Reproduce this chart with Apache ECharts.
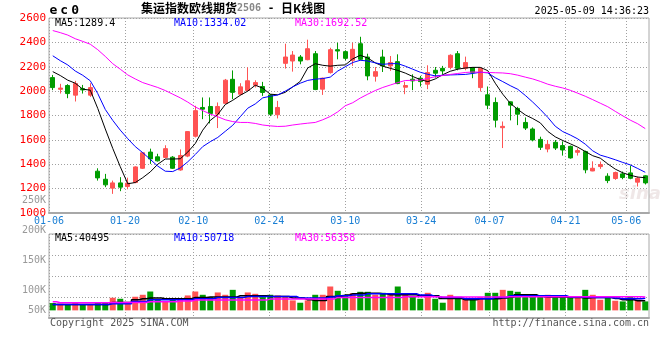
<!DOCTYPE html>
<html><head><meta charset="utf-8">
<script src="https://cdn.jsdelivr.net/npm/echarts@6/dist/echarts.min.js"></script>
<style>html,body{margin:0;padding:0;background:#fff}#c{width:660px;height:360px}</style>
</head><body><div id="c"></div><script>
const dates = ['01-06','01-07','01-08','01-09','01-10','01-13','01-14','01-15','01-16','01-17','01-20','01-21','01-22','01-23','01-24','01-27','02-05','02-06','02-07','02-10','02-11','02-12','02-13','02-14','02-17','02-18','02-19','02-20','02-21','02-24','02-25','02-26','02-27','02-28','03-03','03-04','03-05','03-06','03-07','03-10','03-11','03-12','03-13','03-14','03-17','03-18','03-19','03-20','03-21','03-24','03-25','03-26','03-27','03-28','03-31','04-01','04-02','04-03','04-07','04-08','04-09','04-10','04-11','04-14','04-15','04-16','04-17','04-18','04-21','04-22','04-23','04-24','04-25','04-28','04-29','04-30','05-06','05-07','05-08','05-09'];
const dateLabels = ['01-06','01-20','02-10','02-24','03-10','03-24','04-07','04-21','05-06'];
const opens = [2111,2015,2046,1967,2021,1967,1343,1277,1204,1247,
 1218,1250,1367,1500,1461,1456,1458,1353,1467,1630,
 1866,1874,1811,1900,2097,1975,2005,2048,2038,1969,
 1806,2228,2247,2280,2258,2307,2016,2152,2340,2324,
 2253,2389,2280,2122,2280,2207,2242,2032,2098,2106,
 2057,2171,2187,2195,2307,2187,2193,2029,1970,1907,
 1700,1912,1858,1743,1689,1604,1525,1580,1553,1547,
 1498,1504,1345,1381,1302,1283,1321,1329,1253,1305];
const highs = [2133,2060,2057,2084,2051,2065,1367,1321,1266,1294,
 1290,1383,1500,1528,1486,1556,1467,1522,1672,1880,
 1948,1948,1907,2100,2170,2065,2195,2089,2076,1975,
 1920,2389,2329,2296,2422,2329,2111,2356,2397,2335,
 2397,2446,2307,2198,2340,2288,2302,2076,2138,2125,
 2212,2198,2207,2302,2329,2283,2198,2193,2038,1948,
 1751,1915,1871,1784,1702,1626,1599,1599,1588,1553,
 1531,1512,1424,1422,1326,1340,1340,1389,1299,1310];
const lows = [2008,1980,1942,1915,1980,1953,1266,1212,1157,1179,
 1195,1244,1361,1403,1422,1450,1361,1347,1458,1620,
 1770,1735,1697,1895,1934,1965,2000,2030,1961,1795,
 1776,2185,2160,2220,2253,2008,1969,2144,2261,2253,
 2207,2253,2089,2078,2157,2166,2057,1975,2008,2038,
 2016,2111,2138,2179,2171,2171,2106,1997,1852,1702,
 1533,1760,1721,1681,1588,1517,1498,1517,1471,1446,
 1471,1326,1343,1362,1245,1272,1277,1277,1217,1234];
const closes = [2029,2025,1980,2062,2010,2029,1288,1231,1247,1212,
 1245,1378,1494,1444,1428,1528,1367,1472,1668,1840,
 1852,1817,1874,2090,1990,2035,2085,2070,1989,1811,
 1866,2280,2296,2247,2348,2013,2106,2340,2329,2269,
 2343,2261,2125,2160,2207,2234,2062,2046,2084,2078,
 2152,2147,2166,2294,2187,2234,2152,2187,1885,1762,
 1711,1885,1811,1697,1599,1539,1563,1533,1517,1452,
 1512,1354,1367,1397,1266,1332,1291,1285,1285,1247];
const ma5 = [2160,2128,2090,2065,2016,2008,1858,1690,1530,1380,
 1240,1250,1290,1337,1400,1443,1443,1445,1500,1570,
 1680,1760,1808,1890,1925,1966,2000,2048,2025,1975,
 1970,1990,2035,2080,2190,2225,2212,2205,2212,2215,
 2265,2294,2272,2232,2205,2187,2170,2148,2120,2095,
 2078,2100,2135,2163,2180,2190,2195,2195,2168,2065,
 1975,1900,1850,1805,1775,1740,1670,1625,1595,1568,
 1540,1505,1470,1450,1403,1360,1330,1310,1295,1289.4];
const ma10 = [2290,2250,2215,2165,2130,2085,1980,1850,1760,1680,
 1610,1545,1495,1440,1385,1343,1340,1370,1420,1480,
 1545,1585,1620,1670,1720,1790,1860,1895,1945,1958,
 1968,2000,2035,2065,2088,2098,2103,2115,2165,2200,
 2235,2253,2247,2232,2220,2225,2226,2205,2180,2155,
 2138,2125,2130,2133,2135,2137,2145,2155,2150,2110,
 2078,2045,2015,1965,1910,1850,1785,1712,1668,1640,
 1608,1565,1510,1475,1457,1437,1415,1395,1365,1334.02];
const ma30 = [2497,2480,2460,2430,2408,2385,2340,2285,2225,2180,
 2133,2100,2070,2050,2030,2005,1975,1945,1910,1870,
 1840,1812,1790,1765,1750,1743,1743,1735,1722,1715,
 1710,1712,1722,1730,1737,1743,1765,1792,1830,1880,
 1905,1943,1975,2005,2030,2050,2070,2087,2089,2090,
 2105,2118,2128,2137,2145,2153,2157,2155,2153,2151,
 2149,2143,2131,2115,2100,2080,2057,2040,2026,2007,
 1983,1958,1930,1901,1872,1834,1797,1762,1732,1692.52];
const volumes = [30600,27800,23600,30600,23600,23600,32000,32000,52800,48600,
 30600,57000,65300,79000,43000,36000,48600,48600,62500,79000,
 65300,55600,75000,65300,86000,55600,75000,69400,55600,65300,
 62500,55600,41700,32000,41700,65300,65300,100000,82000,65300,
 72000,77800,77800,65300,73600,65300,100000,65300,58300,48600,
 73600,48600,32000,65300,48600,44400,48600,55600,73600,73600,
 86000,82000,77800,61000,61000,61000,65300,55600,58300,58300,
 58300,86000,65300,44400,55600,40300,37500,58300,44400,37500];
const volMa5 = [25000,25000,25000,25000,25000,25000,25000,25000,33300,33300,
 33300,44400,48600,51400,51400,48600,48600,48600,48600,54200,
 54200,55600,55600,55600,55600,61100,61100,61100,61100,58300,
 58300,58300,51400,51400,44400,41700,41700,58300,58300,63900,
 69400,72200,72200,72200,69400,65300,65300,65300,65300,61100,
 61100,61100,50000,50000,50000,44400,44400,48600,48600,48600,
 51400,55600,65300,65300,65300,58300,55600,55600,55600,54200,
 54200,51400,54200,54200,54200,50000,44400,44400,40300,40495];
const volMa10 = [25000,25000,25000,25000,25000,25000,25000,25000,27800,27800,
 27800,37500,37500,44400,44400,44400,44400,44400,44400,48600,
 48600,48600,54200,54200,54200,54200,58300,58300,58300,58300,
 58300,58300,58300,51400,51400,51400,51400,55600,61100,61100,
 63900,63900,69400,69400,69400,69400,69400,69400,69400,63900,
 63900,58300,54200,54200,54200,48600,48600,48600,48600,54200,
 54200,61100,61100,61100,61100,61100,61100,61100,61100,55600,
 55600,55600,54200,54200,54200,51400,48600,48600,48600,50718];
const volMa30 = [36100,32000,32000,32000,32000,32000,32000,32000,33300,33300,
 33300,33300,33300,36100,36100,36100,36100,38900,38900,43000,
 43000,43000,43000,43000,43000,43000,43000,43000,43000,47200,
 47200,47200,47200,47200,47200,47200,47200,47200,54200,54200,
 54200,54200,54200,54200,54200,54200,54200,56900,56900,56900,
 56900,56900,55600,55600,55600,55600,55600,55600,55600,55600,
 55600,57500,57500,57500,57500,57500,57500,57500,57500,57500,
 57500,57500,57500,57500,57500,57500,57500,57500,57500,56358];
const volTickLabels = ['50K','100K','150K','200K','250K'];

const RED = '#ff5353', GREEN = '#009c00';
const FONT = 'DejaVu Sans Mono';
const last = a => a[a.length - 1];
const isLabel = (i, v) => dateLabels.indexOf(v) >= 0;
const dotted = {show: true, interval: isLabel, lineStyle: {color: '#a0a0a0', type: [1, 2], width: 1}};
const hDotted = {show: true, lineStyle: {color: '#a0a0a0', type: [1, 2], width: 1}};
const kData = dates.map((d, i) => [opens[i], closes[i], lows[i], highs[i]]);
const txt = (text, pos, color, size) => Object.assign({text, padding: 0, textStyle: {fontFamily: FONT, fontSize: size || 10, fontWeight: 'normal', color}}, pos);

const chart = echarts.init(document.getElementById('c'), null, {renderer: 'canvas'});
chart.setOption({
  animation: false,
  backgroundColor: '#fff',
  title: [
    {text: '{s|e}{s|c}{s|0}', left: 48, top: 4, padding: 0, textStyle: {rich: {s: {fontFamily: FONT, fontSize: 13, fontWeight: 'bold', color: '#000', padding: [0, 1.5]}}}},
    {text: '{a|集运指数欧线期货}{b|2506}{c| - }{a|日K线图}', left: 141, top: 2, padding: 0,
     textStyle: {rich: {a: {fontFamily: 'Noto Sans CJK SC', fontSize: 12, color: '#000'}, b: {fontFamily: FONT, fontSize: 10, color: '#888'}, c: {fontFamily: FONT, fontSize: 11, color: '#000'}}}},
    txt('2025-05-09 14:36:23', {right: 11, top: 6}, '#000'),
    txt('MA5:' + last(ma5), {left: 55, top: 18}, '#000'),
    txt('MA10:' + last(ma10).toFixed(2), {left: 174, top: 18}, '#0000ff'),
    txt('MA30:' + last(ma30).toFixed(2), {left: 295, top: 18}, '#ff00ff'),
    txt('MA5:' + last(volMa5), {left: 55, top: 233}, '#000'),
    txt('MA10:' + last(volMa10), {left: 174, top: 233}, '#0000ff'),
    txt('MA30:' + last(volMa30), {left: 295, top: 233}, '#ff00ff'),
    txt('Copyright 2025 SINA.COM', {left: 50, top: 318}, '#555'),
    txt('http://finance.sina.com.cn', {right: 11, top: 318}, '#555')
  ],
  graphic: [{type: 'text', left: 619, top: 185, silent: true,
    style: {text: 'sina', font: 'italic bold 18px "DejaVu Sans"', fill: 'rgba(190,160,160,0.25)'}}],
  grid: [
    {left: 49, top: 18, width: 600, height: 195, show: true, borderColor: '#a8a8a8', borderWidth: 1},
    {left: 49, top: 234, width: 600, height: 84, show: true, borderColor: '#a8a8a8', borderWidth: 1},
    {left: 49, top: 200.7, width: 600, height: 120, show: false}
  ],
  xAxis: [
    {type: 'category', gridIndex: 0, data: dates, boundaryGap: true, show: false},
    {type: 'category', gridIndex: 0, data: dates, boundaryGap: false, position: 'bottom',
     axisLine: {show: true, lineStyle: {color: '#a8a8a8', width: 2}}, axisTick: {show: false},
     axisLabel: {interval: isLabel, color: '#1a7fd4', fontFamily: FONT, fontSize: 10, margin: 3},
     splitLine: dotted},
    {type: 'category', gridIndex: 1, data: dates, boundaryGap: true, show: false},
    {type: 'category', gridIndex: 1, data: dates, boundaryGap: false, position: 'bottom',
     axisLine: {show: true, lineStyle: {color: '#a8a8a8', width: 2}}, axisTick: {show: false},
     axisLabel: {show: false}, splitLine: dotted},
    {type: 'value', gridIndex: 2, min: 0, max: 1, show: false}
  ],
  yAxis: [
    {type: 'value', gridIndex: 0, min: 1000, max: 2600, interval: 200,
     axisLine: {show: false}, axisTick: {show: false},
     axisLabel: {color: '#ff0000', fontFamily: FONT, fontSize: 11, margin: 3, formatter: v => String(v)}, splitLine: hDotted},
    {type: 'value', gridIndex: 1, min: -32000, max: 320000, show: false, splitLine: {show: false}},
    {type: 'value', gridIndex: 1, min: 0, max: 4, interval: 1, axisLine: {show: false}, axisTick: {show: false},
     axisLabel: {show: false}, splitLine: hDotted},
    {type: 'category', gridIndex: 2, data: volTickLabels, boundaryGap: false,
     axisLine: {show: false}, axisTick: {show: false}, splitLine: {show: false},
     axisLabel: {color: '#999', fontFamily: FONT, fontSize: 10, margin: 3,
       formatter: (v, i) => i === 0 ? '{low|' + v + '}' : v,
       rich: {low: {color: '#999', fontFamily: FONT, fontSize: 10, padding: [0, 0, 21, 0]}}}}
  ],
  series: [
    {type: 'candlestick', xAxisIndex: 0, yAxisIndex: 0, data: kData, barWidth: 4.5,
     itemStyle: {color: RED, color0: GREEN, borderColor: RED, borderColor0: GREEN, borderWidth: 1}},
    {type: 'line', xAxisIndex: 0, yAxisIndex: 0, data: ma5, symbol: 'none', lineStyle: {color: '#000', width: 1}},
    {type: 'line', xAxisIndex: 0, yAxisIndex: 0, data: ma10, symbol: 'none', lineStyle: {color: '#0000ff', width: 1}},
    {type: 'line', xAxisIndex: 0, yAxisIndex: 0, data: ma30, symbol: 'none', lineStyle: {color: '#ff00ff', width: 1}},
    {type: 'bar', xAxisIndex: 2, yAxisIndex: 1, data: volumes, barWidth: 6,
     itemStyle: {color: p => closes[p.dataIndex] >= opens[p.dataIndex] ? RED : GREEN}},
    {type: 'line', xAxisIndex: 2, yAxisIndex: 1, data: volMa5, step: 'middle', symbol: 'none', lineStyle: {color: '#000', width: 1.5}},
    {type: 'line', xAxisIndex: 2, yAxisIndex: 1, data: volMa10, step: 'middle', symbol: 'none', lineStyle: {color: '#0000ff', width: 1.5}},
    {type: 'line', xAxisIndex: 2, yAxisIndex: 1, data: volMa30, step: 'middle', symbol: 'none', lineStyle: {color: '#ff00ff', width: 1.5}}
  ]
});
</script></body></html>
